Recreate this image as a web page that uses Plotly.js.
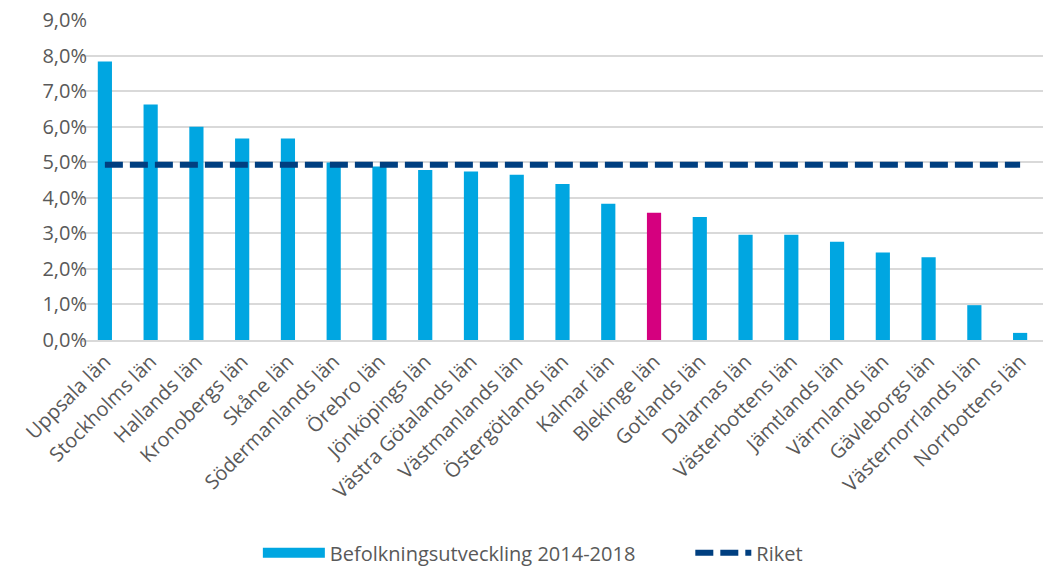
<!DOCTYPE html>
<html><head><meta charset="utf-8">
<script src="https://cdn.plot.ly/plotly-3.0.1.min.js"></script>
<style>html,body{margin:0;padding:0;background:#fff}#chart{width:1045px;height:574px}</style>
</head><body><div id="chart"></div>
<script>
const categories = ["Uppsala län","Stockholms län","Hallands län","Kronobergs län","Skåne län","Södermanlands län","Örebro län","Jönköpings län","Västra Götalands län","Västmanlands län","Östergötlands län","Kalmar län","Blekinge län","Gotlands län","Dalarnas län","Västerbottens län","Jämtlands län","Värmlands län","Gävleborgs län","Västernorrlands län","Norrbottens län"];
const befolkning = [0.0783,0.0662,0.0600,0.0567,0.0567,0.0499,0.0488,0.0478,0.0474,0.0465,0.0439,0.0383,0.0358,0.0346,0.0296,0.0296,0.0276,0.0246,0.0233,0.0098,0.0020];
const riket = [0.0493,0.0493,0.0493,0.0493,0.0493,0.0493,0.0493,0.0493,0.0493,0.0493,0.0493,0.0493,0.0493,0.0493,0.0493,0.0493,0.0493,0.0493,0.0493,0.0493,0.0493];
const highlight = "Blekinge län";
const seriesNames = ["Befolkningsutveckling 2014-2018", "Riket"];
const barBlue = "#00a6e1";
const barColors = categories.map(c => c === highlight ? "#d5007f" : barBlue);
const font = "Open Sans, Liberation Sans, sans-serif";
const legendFont = {family:font, size:20, color:"#595959"};
const data = [
  {type:"bar", x:categories, y:befolkning, name:seriesNames[0], showlegend:false,
   marker:{color:barColors}},
  // legend entry for the bars, drawn as a wide block like the original
  {type:"scatter", mode:"lines", x:[categories[0]], y:[null], name:seriesNames[0],
   line:{color:barBlue, width:14}, showlegend:true, legend:"legend"},
  {type:"scatter", mode:"lines", x:categories, y:riket, name:seriesNames[1],
   line:{color:"#003f80", width:6, dash:"18px,7px"}, legend:"legend2"}
];
const layout = {
  width:1045, height:574,
  margin:{l:82, r:2, t:20, b:231},
  separators:", ",
  bargap:0.69,
  showlegend:true,
  legend:{orientation:"h", x:0.183, xanchor:"left", y:-0.665, yanchor:"middle",
    font:legendFont, itemwidth:62},
  legend2:{orientation:"h", x:0.633, xanchor:"left", y:-0.665, yanchor:"middle",
    font:legendFont, itemwidth:56},
  xaxis:{type:"category", tickangle:-45, tickfont:{family:font, size:20, color:"#595959"},
    showgrid:false, showline:true, linecolor:"#d9d9d9", linewidth:2, ticks:"", automargin:false},
  yaxis:{range:[0,0.09], dtick:0.01, tickformat:".1%", tickfont:{family:font, size:20, color:"#595959"},
    ticklabelstandoff:-6,
    showgrid:true, gridcolor:"#d9d9d9", gridwidth:2, zeroline:false, showline:false, ticks:"", automargin:false},
  plot_bgcolor:"#fff", paper_bgcolor:"#fff"
};
Plotly.newPlot("chart", data, layout, {displayModeBar:false, staticPlot:true});
</script></body></html>
